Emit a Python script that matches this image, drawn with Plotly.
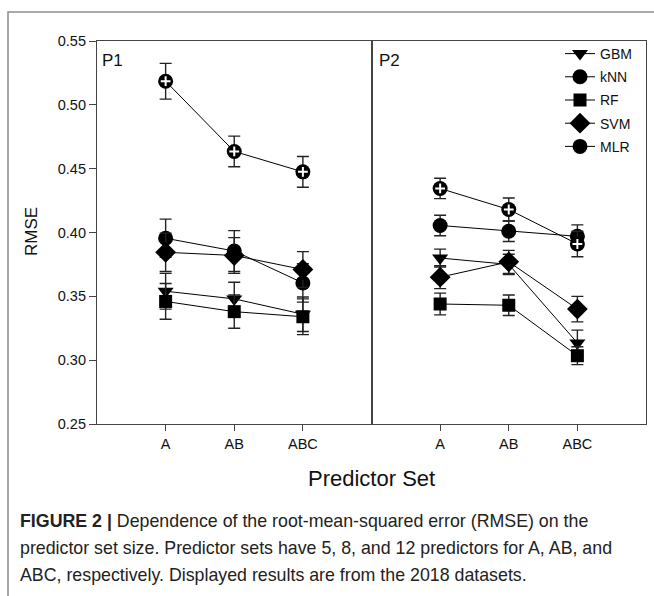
import plotly.graph_objects as go

categories = ["A", "AB", "ABC"]
tick_vals_y = [0.25, 0.30, 0.35, 0.40, 0.45, 0.50, 0.55]
tick_text_y = ["0.25", "0.30", "0.35", "0.40", "0.45", "0.50", "0.55"]

models = ["GBM", "kNN", "RF", "SVM", "MLR"]

# Panel P1
p1_gbm = [0.354, 0.348, 0.336]
p1_gbm_err = [0.014, 0.013, 0.0135]
p1_knn = [0.3955, 0.3855, 0.3605]
p1_knn_err = [0.015, 0.016, 0.015]
p1_rf = [0.346, 0.338, 0.334]
p1_rf_err = [0.014, 0.013, 0.014]
p1_svm = [0.3845, 0.382, 0.371]
p1_svm_err = [0.015, 0.014, 0.014]
p1_mlr = [0.5185, 0.4635, 0.4475]
p1_mlr_err = [0.014, 0.012, 0.012]

# Panel P2
p2_gbm = [0.380, 0.375, 0.3135]
p2_gbm_err = [0.007, 0.008, 0.010]
p2_knn = [0.4055, 0.401, 0.397]
p2_knn_err = [0.008, 0.008, 0.009]
p2_rf = [0.344, 0.343, 0.3035]
p2_rf_err = [0.0085, 0.008, 0.007]
p2_svm = [0.365, 0.377, 0.340]
p2_svm_err = [0.009, 0.009, 0.010]
p2_mlr = [0.4345, 0.418, 0.391]
p2_mlr_err = [0.008, 0.009, 0.010]

caption_lines = [
    "<b>FIGURE 2 |</b> Dependence of the root-mean-squared error (RMSE) on the",
    "predictor set size. Predictor sets have 5, 8, and 12 predictors for A, AB, and",
    "ABC, respectively. Displayed results are from the 2018 datasets.",
]

panels = {
    "P1": dict(GBM=(p1_gbm, p1_gbm_err), kNN=(p1_knn, p1_knn_err), RF=(p1_rf, p1_rf_err),
               SVM=(p1_svm, p1_svm_err), MLR=(p1_mlr, p1_mlr_err)),
    "P2": dict(GBM=(p2_gbm, p2_gbm_err), kNN=(p2_knn, p2_knn_err), RF=(p2_rf, p2_rf_err),
               SVM=(p2_svm, p2_svm_err), MLR=(p2_mlr, p2_mlr_err)),
}

symbols = {"GBM": "triangle-down", "kNN": "circle", "RF": "square", "SVM": "diamond", "MLR": "circle"}
sizes = {"GBM": 14, "kNN": 15, "RF": 13, "SVM": 16, "MLR": 15}

W, H = 654, 596
ML, MR, MT, MB = 97, 8, 41, 172
pw = W - ML - MR
ph = H - MT - MB

def px_to_paper_x(px):
    return (px - ML) / pw

def px_to_paper_y(py):
    return (H - MB - py) / ph

fig = go.Figure()

for pi, (pname, pdata) in enumerate(panels.items()):
    xa = "x" if pi == 0 else "x2"
    ya = "y" if pi == 0 else "y2"
    for m in models:
        vals, errs = pdata[m]
        fig.add_trace(go.Scatter(
            x=categories, y=vals, xaxis=xa, yaxis=ya,
            mode="lines+markers", name=m, legendgroup=m, showlegend=(pi == 1),
            line=dict(color="black", width=1),
            marker=dict(symbol=symbols[m], size=sizes[m], color="black",
                        line=dict(width=0)),
            error_y=dict(type="data", array=errs, visible=True, color="#222222",
                         thickness=1.4, width=6),
        ))
    vals, errs = pdata["MLR"]
    fig.add_trace(go.Scatter(
        x=categories, y=vals, xaxis=xa, yaxis=ya, mode="markers",
        showlegend=False, hoverinfo="skip",
        marker=dict(symbol="cross-thin", size=7, color="white",
                    line=dict(color="white", width=2)),
    ))

axis_common = dict(showline=True, linecolor="#444444", linewidth=1.2, mirror=True,
                   showgrid=False, zeroline=False)
tickfont = dict(size=14.5, color="#111111")

annotations = [
    dict(text="P1", xref="paper", yref="paper", x=px_to_paper_x(100), y=px_to_paper_y(60),
         xanchor="left", yanchor="middle", showarrow=False, font=dict(size=17)),
    dict(text="P2", xref="paper", yref="paper", x=px_to_paper_x(377), y=px_to_paper_y(60),
         xanchor="left", yanchor="middle", showarrow=False, font=dict(size=17)),
    dict(text="RMSE", xref="paper", yref="paper", x=px_to_paper_x(31), y=px_to_paper_y(232),
         xanchor="center", yanchor="middle", textangle=-90, showarrow=False,
         font=dict(size=17)),
    dict(text="Predictor Set", xref="paper", yref="paper", x=px_to_paper_x(371),
         y=px_to_paper_y(478), xanchor="center", yanchor="middle", showarrow=False,
         font=dict(size=22)),
]
for i, line in enumerate(caption_lines):
    annotations.append(dict(
        text=line, xref="paper", yref="paper", x=px_to_paper_x(18),
        y=px_to_paper_y(521 + 27 * i), xanchor="left", yanchor="middle", align="left",
        showarrow=False, font=dict(size=17.8, color="#222222")))

fig.update_layout(
    width=W, height=H,
    margin=dict(l=ML, r=MR, t=MT, b=MB),
    paper_bgcolor="white", plot_bgcolor="white",
    font=dict(family="Liberation Sans, Arial, sans-serif", color="#111111", size=14),
    xaxis=dict(domain=[0, 0.5], type="category", categoryorder="array",
               categoryarray=categories, range=[-1, 3], ticks="outside", ticklen=6,
               tickcolor="#444444", tickfont=tickfont, **axis_common),
    xaxis2=dict(domain=[0.5, 1], type="category", categoryorder="array",
                categoryarray=categories, range=[-1, 3], ticks="outside", ticklen=6,
                tickcolor="#444444", tickfont=tickfont, anchor="y2", **axis_common),
    yaxis=dict(range=[0.25, 0.55], tickvals=tick_vals_y, ticktext=tick_text_y,
               ticks="outside", ticklen=7, tickcolor="#444444", tickfont=tickfont,
               anchor="x", **axis_common),
    yaxis2=dict(range=[0.25, 0.55], matches="y", showticklabels=False, anchor="x2",
                **axis_common),
    showlegend=True,
    legend=dict(x=px_to_paper_x(560), y=px_to_paper_y(38), xanchor="left", yanchor="top",
                bgcolor="rgba(0,0,0,0)", font=dict(size=14, color="#111111"),
                itemwidth=30, tracegroupgap=2),
    shapes=[
        dict(type="rect", xref="paper", yref="paper",
             x0=px_to_paper_x(8), x1=px_to_paper_x(660),
             y0=px_to_paper_y(605), y1=px_to_paper_y(12),
             line=dict(color="#8c8c8c", width=1.5), fillcolor="rgba(0,0,0,0)", layer="below"),
    ],
    annotations=annotations,
)

fig.write_html("out.html", config={"displayModeBar": False},
               post_script="document.body.style.margin='0';")
